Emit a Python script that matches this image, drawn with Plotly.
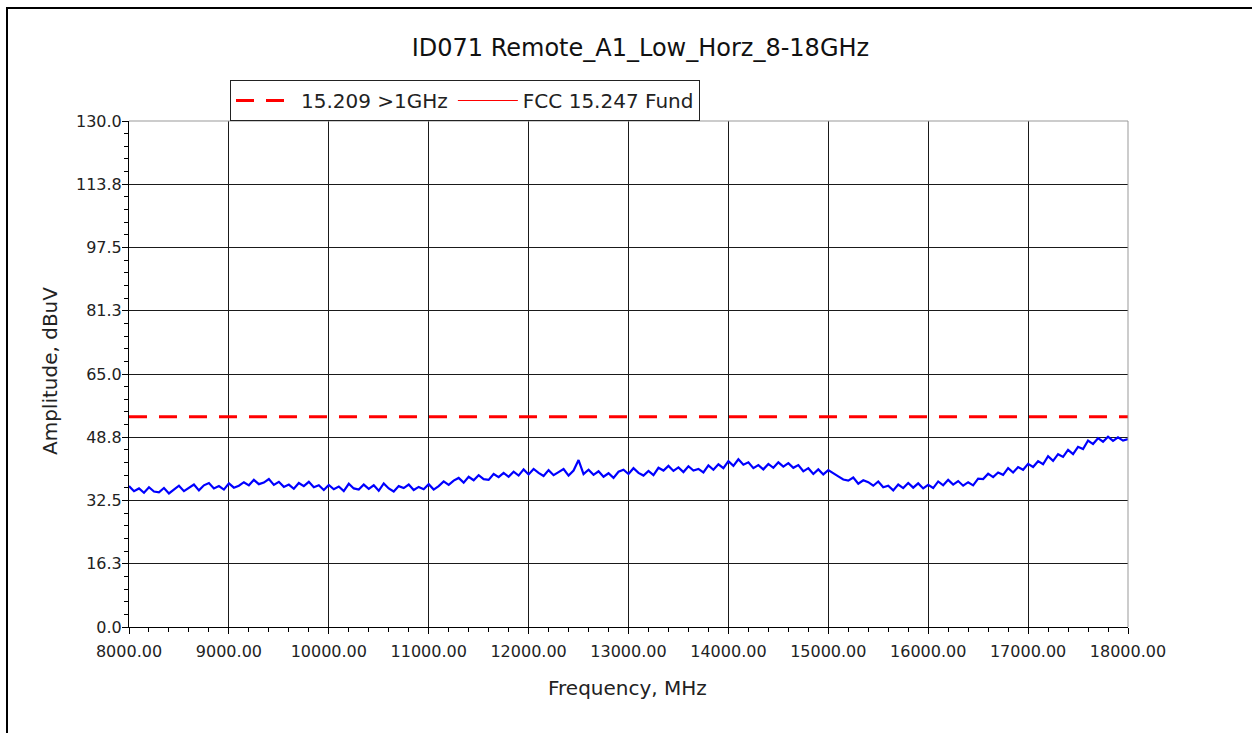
import plotly.graph_objects as go

# ---- data ----
freq_mhz = [8000 + 50 * i for i in range(201)]
amplitude_dbuv = [
    36.2, 34.9, 35.6, 34.5, 35.9, 34.8, 34.6, 35.7, 34.3, 35.2, 36.3, 34.9,
    35.8, 36.6, 35.1, 36.4, 37.0, 35.6, 36.2, 35.3, 36.9, 35.8, 36.3, 37.2,
    36.4, 37.8, 36.7, 37.1, 38.0, 36.5, 37.3, 36.0, 36.6, 35.5, 37.0, 36.2,
    37.3, 35.9, 36.4, 35.2, 36.5, 35.4, 36.1, 34.9, 36.8, 35.6, 35.3, 36.6,
    35.5, 36.4, 35.0, 36.9, 35.6, 34.8, 36.2, 35.7, 36.6, 35.2, 36.0, 35.4,
    36.7, 35.3, 36.2, 37.4, 36.5, 37.6, 38.3, 37.1, 38.6, 37.7, 39.0, 38.0,
    37.8, 39.3, 38.5, 39.6, 38.6, 39.9, 38.9, 40.5, 39.2, 40.6, 39.6, 38.8,
    40.3, 39.0, 39.8, 40.6, 38.9, 40.2, 42.9, 39.3, 40.4, 39.1, 40.0, 38.6,
    39.5, 38.3, 39.9, 40.4, 39.3, 40.8, 39.6, 38.9, 40.1, 39.0, 40.9, 40.2,
    41.4, 40.1, 41.0, 39.8, 41.3, 40.2, 40.6, 39.7, 41.5, 40.4, 41.8, 40.8,
    42.6, 41.4, 43.1, 41.7, 42.3, 40.8, 41.6, 40.5, 41.9, 40.9, 42.3, 41.2,
    42.1, 40.9, 41.6, 40.0, 40.8, 39.3, 40.5, 39.2, 40.3, 39.4, 38.7, 37.9,
    37.6, 38.4, 36.8, 37.7, 37.2, 36.3, 37.4, 35.9, 36.3, 35.1, 36.6, 35.7,
    37.0, 35.8, 36.9, 35.6, 36.5, 35.7, 37.4, 36.4, 37.8, 36.6, 37.5, 36.3,
    37.2, 36.4, 38.1, 38.0, 39.4, 38.5, 39.7, 39.1, 40.8, 39.7, 41.1, 40.4,
    41.9, 41.1, 42.6, 41.8, 43.9, 42.7, 44.4, 43.7, 45.5, 44.4, 46.3, 45.7,
    47.9, 47.0, 48.5, 47.6, 48.9, 47.8, 48.7, 47.9, 48.3,
]
limit_freq = [8000, 18000]
limit_15209 = [54.0, 54.0]

y_tickvals = [0, 16.25, 32.5, 48.75, 65, 81.25, 97.5, 113.75, 130]
y_ticktext = ["0.0", "16.3", "32.5", "48.8", "65.0", "81.3", "97.5", "113.8", "130.0"]
x_tickvals = [8000, 9000, 10000, 11000, 12000, 13000, 14000, 15000, 16000, 17000, 18000]
x_ticktext = ["%.2f" % v for v in x_tickvals]

FONT = "DejaVu Sans, Liberation Sans, Arial, sans-serif"

fig = go.Figure()
fig.add_trace(go.Scatter(
    x=freq_mhz, y=amplitude_dbuv, mode="lines",
    line=dict(color="#0000FF", width=2.2), showlegend=False, name="Trace"))
fig.add_trace(go.Scatter(
    x=limit_freq, y=limit_15209, mode="lines", name="15.209 >1GHz",
    line=dict(color="#FF0000", width=3, dash="18px,12px")))
fig.add_trace(go.Scatter(
    x=[None], y=[None], mode="lines", name="FCC 15.247 Fund",
    line=dict(color="#FF0000", width=1)))

W, H = 1252, 733
L, R, T, B = 129, 1128, 121, 627
pw, ph = R - L, B - T

def px(xp):
    return (xp - L) / pw

def py(yp):
    return (B - yp) / ph

fig.update_layout(
    width=W, height=H,
    margin=dict(l=L, r=W - R, t=T, b=H - B, pad=0),
    paper_bgcolor="white", plot_bgcolor="white",
    font=dict(family=FONT, color="#111111"),
    title=dict(text="ID071 Remote_A1_Low_Horz_8-18GHz", x=px(640), xanchor="center",
               y=1 - 48 / H, yanchor="middle", font=dict(size=24, color="#111111")),
    legend=dict(orientation="h", x=px(230), y=py(80), xanchor="left", yanchor="top",
                bordercolor="#222222", borderwidth=1, bgcolor="white",
                font=dict(size=20, color="#222222"), itemwidth=60,
                tracegroupgap=0),
    showlegend=True,
)
fig.update_xaxes(
    range=[8000, 18000], tickmode="array", tickvals=x_tickvals, ticktext=x_ticktext,
    showgrid=True, gridcolor="#1a1a1a", gridwidth=1,
    showline=True, linecolor="#000000", linewidth=1, zeroline=False,
    ticks="outside", ticklen=6, tickcolor="#000000", ticklabelstandoff=4,
    minor=dict(dtick=200, tick0=8000, ticks="outside", ticklen=4, tickcolor="#000000", showgrid=False),
    tickfont=dict(size=16, color="#222222"),
)
fig.update_yaxes(
    range=[0, 130], tickmode="array", tickvals=y_tickvals, ticktext=y_ticktext,
    showgrid=True, gridcolor="#1a1a1a", gridwidth=1,
    showline=True, linecolor="#000000", linewidth=1, zeroline=False,
    ticks="outside", ticklen=6, tickcolor="#000000", ticklabelstandoff=-3,
    minor=dict(dtick=3.25, tick0=0, ticks="outside", ticklen=4, tickcolor="#000000", showgrid=False),
    tickfont=dict(size=16, color="#222222"),
)

# axis titles
fig.add_annotation(text="Frequency, MHz", xref="paper", yref="paper", x=px(627), y=py(688),
                   showarrow=False, font=dict(size=20, color="#222222"),
                   xanchor="center", yanchor="middle")
fig.add_annotation(text="Amplitude, dBuV", xref="paper", yref="paper", x=px(50), y=py(371),
                   showarrow=False, textangle=-90, font=dict(size=20, color="#222222"),
                   xanchor="center", yanchor="middle")

# gray frame top and right
fig.add_shape(type="line", xref="paper", yref="paper", x0=0, x1=1, y0=1, y1=1,
              line=dict(color="#999999", width=1))
fig.add_shape(type="line", xref="paper", yref="paper", x0=1, x1=1, y0=0, y1=1,
              line=dict(color="#999999", width=1))
# outer border (continues past the right and bottom edges)
fig.add_shape(type="rect", xref="paper", yref="paper", x0=px(7), x1=px(1270),
              y0=py(760), y1=py(8), line=dict(color="#000000", width=2),
              fillcolor="rgba(0,0,0,0)", layer="below")

fig.write_html("out.html")
